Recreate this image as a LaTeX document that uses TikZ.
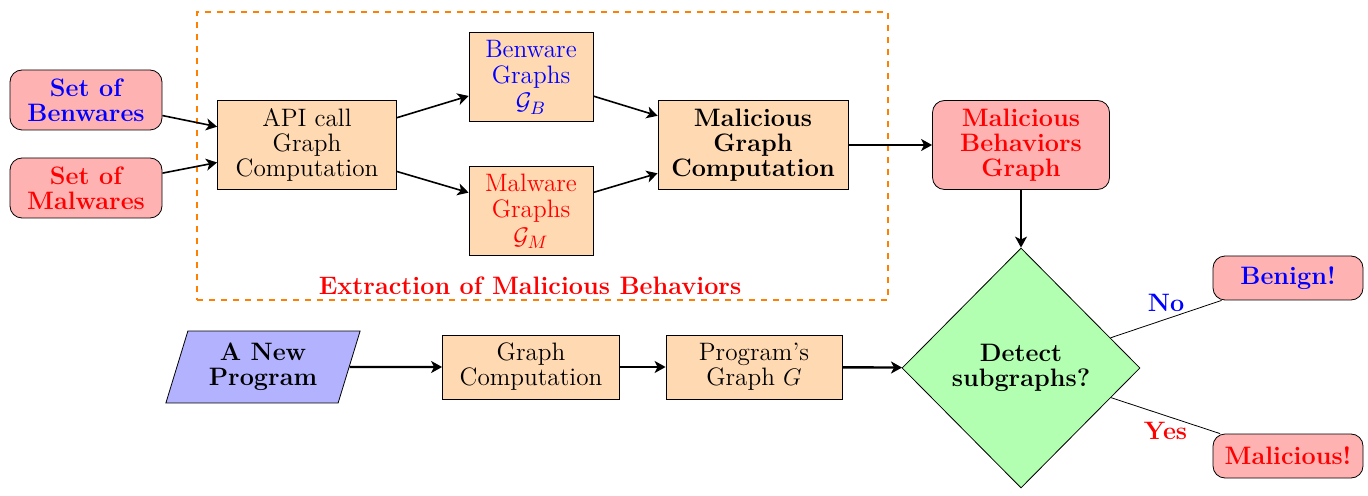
\documentclass[tikz,border=0pt]{standalone}
\usepackage{xcolor}
\usepackage{tikz}
\usetikzlibrary{positioning,arrows.meta,shapes.geometric}
\newcommand{\boxfont}{\fontsize{12.6}{12.5}\selectfont}

\begin{document}
\begin{tikzpicture}[x=0.5pt,y=-0.5pt,
  base/.style={draw=black,align=center,font=\boxfont,inner sep=2pt},
  bold/.style={font=\boxfont\bfseries},
  setbox/.style={base,bold,fill=red!30,rounded corners=6pt,minimum width=76pt,minimum height=30pt},
  procbox/.style={base,fill=orange!30,minimum height=44.5pt},
  graphbox/.style={procbox,minimum width=62pt,font=\fontsize{12.6}{13.2}\selectfont},
  flow/.style={-{Stealth[length=5.5pt,width=6pt,inset=1.5pt]},thick},
  inflow/.style={flow,very thick}]
  \useasboundingbox (0,0) rectangle (1368,496);

  % extraction stage
  \node[draw=orange,dashed,thick,minimum width=345.5pt,minimum height=144pt] (extract) at (542.5,156) {};
  \node[text=red,bold] (extractlabel) at (530,286) {Extraction of Malicious Behaviors};
  \node[setbox,text=blue] (benwares) at (86,100) {Set of\\Benwares};
  \node[setbox,text=red] (malwares) at (86,188) {Set of\\Malwares};
  \node[procbox,minimum width=89.5pt] (apicall) at (307,145) {API call\\Graph\\Computation};
  \node[graphbox,text=blue] (bengraphs) at (531,77) {Benware\\Graphs\\$\mathcal{G}_B$};
  \node[graphbox,text=red] (malgraphs) at (531,211) {Malware\\Graphs\\$\mathcal{G}_M$};
  \node[procbox,bold,minimum width=95pt] (malcomp) at (753,145) {Malicious\\Graph\\Computation};
  \node[setbox,text=red,minimum width=88.5pt,minimum height=44.5pt] (behgraph) at (1021,145) {Malicious\\Behaviors\\Graph};

  % detection stage
  \node[base,bold,trapezium,trapezium left angle=73,trapezium right angle=107,
        fill=blue!30,minimum width=98pt,minimum height=32.5pt] (newprog) at (263,367) {A New\\Program};
  \node[procbox,minimum width=88.5pt,minimum height=32pt] (graphcomp) at (531,367) {Graph\\Computation};
  \node[procbox,minimum width=88pt,minimum height=32pt] (proggraph) at (754,367) {Program's\\Graph $G$};
  \node[base,bold,diamond,aspect=1,inner sep=0pt,fill=green!30,
        minimum width=119pt,minimum height=120pt] (detect) at (1021,368) {Detect\\subgraphs?};
  \node[setbox,text=blue,minimum width=75pt,minimum height=22pt] (benign) at (1288,278) {Benign!};
  \node[setbox,text=red,minimum width=75pt,minimum height=22pt] (malicious) at (1288,456) {Malicious!};

  \foreach \a/\b in {benwares/apicall,malwares/apicall,apicall/bengraphs,apicall/malgraphs,
                     bengraphs/malcomp,malgraphs/malcomp,malcomp/behgraph,behgraph/detect}
    \draw[flow] (\a) -- (\b);
  \foreach \a/\b in {newprog/graphcomp,graphcomp/proggraph,proggraph/detect}
    \draw[inflow] (\a) -- (\b);
  \draw (detect) -- node[above,text=blue,bold] {No} (benign);
  \draw (detect) -- node[below,text=red,bold] {Yes} (malicious);
\end{tikzpicture}
\end{document}
